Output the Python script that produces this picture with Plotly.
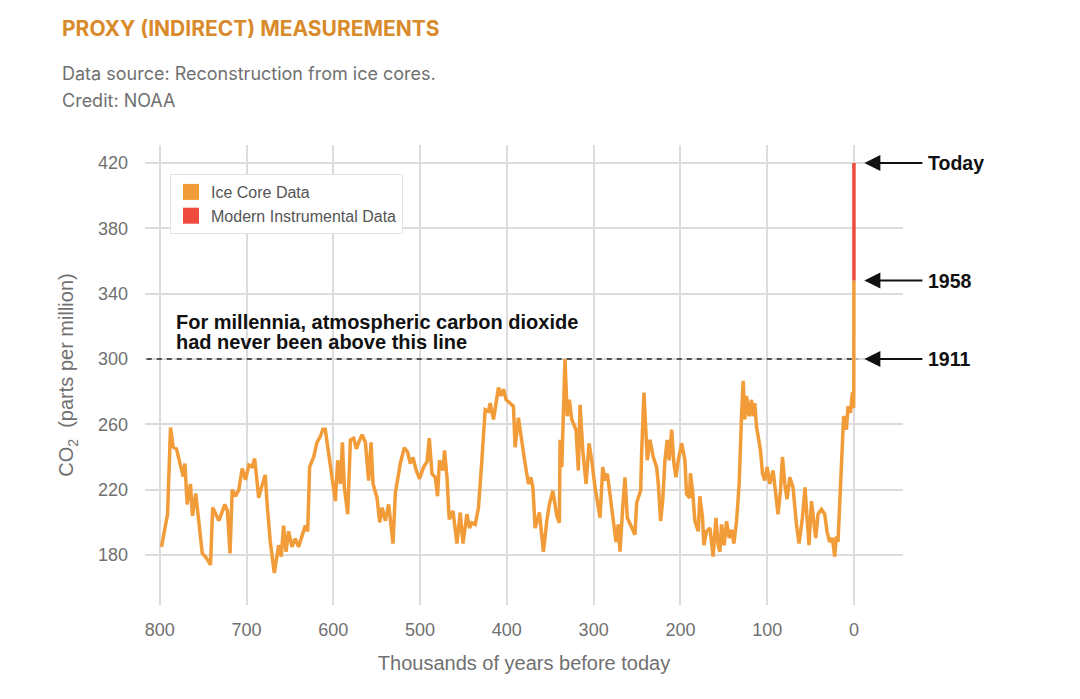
import plotly.graph_objects as go

# ---------------- data ----------------
ice_age = [798, 791, 787.6, 784.5, 780.7, 776.9, 773, 771, 768.4, 764.6, 762.3, 758.5, 755, 751, 746, 741.5,
           739, 735.6, 731.8, 725, 722, 719, 716.5, 712.7, 708.9, 705, 701.2, 697.4, 693.6, 690.6, 686, 683,
           678.4, 676.4, 672.6, 668, 663, 660, 657.3, 654.5, 651.5, 647.6, 643.8, 640, 636, 632.3, 629.5,
           627.3, 622.6, 618.8, 615, 612, 609.3, 603.5, 597.6, 595, 591.8, 589.5, 587.2, 583.4, 580.3, 576.5,
           573.4, 570.7, 566.9, 563, 559.3, 556.5, 554.2, 549.6, 546.6, 543.8, 540, 536.2, 531.2, 528.5,
           522.8, 518.2, 514.4, 511.3, 508.2, 504.4, 500.6, 496, 492, 489.4, 486.3, 482.5, 479.9, 477.6,
           473.7, 471.8, 469, 466.4, 462.1, 457.5, 453.7, 450.6, 446, 443, 440.3, 436.5, 432.7, 428.8, 425,
           421.2, 419.2, 415.4, 412.7, 409.7, 406.9, 403.9, 400.8, 396.2, 392.4, 390.5, 386.7, 384.7, 381.6,
           379, 375.1, 372.4, 370, 367.4, 362.5, 357.9, 354, 351, 347, 342.4, 339.5, 338.7, 336.7, 333,
           330.4, 328, 325.2, 320.3, 317.6, 315.6, 312.5, 308.7, 305.3, 302.2, 298.4, 295.7, 292.6, 289.5,
           286.9, 284.2, 281.1, 277.3, 274.2, 271.6, 269.6, 266.5, 263.9, 261.2, 257.3, 252.4, 250.4, 245.8,
           244.6, 242, 239.7, 238.2, 235.1, 231.3, 227.4, 225.5, 222.8, 220.5, 217.8, 215.2, 212.9, 210.1,
           207.5, 205.2, 202.5, 198.6, 194.8, 192.9, 189.5, 188.5, 186, 183.3, 179.5, 177.6, 174.5, 173,
           169.9, 166, 162.3, 159.1, 156.5, 154.5, 152.6, 149.6, 146.8, 143.8, 141.1, 138.4, 135.3, 132.3,
           129.6, 127.7, 125.8, 123.8, 120.8, 118.1, 116.2, 114.3, 112.3, 109.3, 107.7, 105.4, 102.8, 100.1,
           97, 93.2, 90.1, 87.5, 84.7, 82.4, 79.7, 77.1, 74, 70.2, 66.3, 63.3, 59.4, 56.4, 54.1, 51.8, 49,
           46.4, 44.1, 41.4, 37.5, 33.7, 31.1, 28, 24.9, 22.2, 20.3, 18.4, 16.5, 14.5, 11.9, 8.7, 6.9, 4.1,
           1.8, 1.0, 0.4, 0.2, 0.1, 0.07]
ice_co2 = [185, 205, 258, 246, 245, 236, 228, 236, 211, 223.5, 204, 217.7, 198.7, 181, 178, 174,
           209, 205, 201, 211, 207, 181, 220, 216, 220, 233, 226, 235, 234, 239, 215, 221,
           229, 212, 188, 169, 186, 179, 198, 182, 194.5, 185, 190, 185, 192, 198, 194.5,
           234, 240, 249, 252.5, 257, 257, 235, 213, 238, 223.5, 249, 221, 205, 250.5, 251.5,
           245, 249, 253.6, 249, 225.6, 249, 223.5, 215, 200, 209, 201, 211, 187, 218,
           236, 245.7, 243, 236, 239.7, 231.8, 226.6, 233.8, 237, 251.5, 229.8, 227.6, 216, 238,
           231.8, 244, 227.6, 201.8, 207, 187, 206, 187, 205, 196.5, 199.7, 198.7, 209, 238, 269,
           268, 273, 263, 274, 282.6, 277.4, 281.6, 275, 273, 271, 246, 264, 256.7, 244,
           236, 223.5, 227.6, 221.4, 196.5, 206, 182, 200.7, 211, 219.4, 203.8, 199.7, 250.5, 233.8, 300,
           265, 275, 263, 256.7, 231.8, 272, 244, 223.5, 248.4, 238, 221.4, 211, 202.8, 233.8,
           225.6, 229.8, 217.3, 202.8, 188, 198.7, 182, 209, 227.6, 202.8, 198.7, 192.4, 212, 219.4,
           244, 279.5, 254.6, 238, 250.5, 240, 233.8, 223.5, 200.7, 213, 238, 250.5, 238, 256.7,
           236, 227.6, 238, 248.4, 238, 217.3, 215, 230, 219.4, 200.7, 194.5, 216, 202.8, 186,
           194.5, 196.5, 179, 202.8, 186, 182, 198.7, 186, 200.7, 190.4, 195.5, 187, 200.7, 223.5,
           265, 286.7, 263, 277.4, 265, 275, 265, 273, 258.7, 250.5, 244, 229.8, 225.6, 233.8,
           223.5, 231.8, 219.4, 205, 219.4, 240, 223.5, 214.2, 227.6, 221.4, 198.7, 187, 202.8, 221.4, 202.8, 186, 213,
           198.7, 190.4, 205, 208, 205, 194.5, 188, 190.4, 179, 191.4, 188, 211, 236, 265, 256.7, 271, 267,
           279.5, 272, 270, 285, 300, 348]

modern_age = [0.07, 0.04, 0.02, 0.0]
modern_co2 = [348, 375, 398, 420]

x_ticks = [800, 700, 600, 500, 400, 300, 200, 100, 0]
y_ticks = [180, 220, 260, 300, 340, 380, 420]

marker_labels = ["Today", "1958", "1911"]
marker_values = [420, 348, 300]

ORANGE = "#F19C38"
RED = "#EE4A3E"
GRID = "#dcdcdc"
GRAYTXT = "#707070"
FONT = "Liberation Sans, Arial, sans-serif"

fig = go.Figure()
fig.add_trace(go.Scatter(x=ice_age, y=ice_co2, mode="lines", showlegend=False,
                         line=dict(color=ORANGE, width=3.5), hoverinfo="skip"))
fig.add_trace(go.Scatter(x=modern_age, y=modern_co2, mode="lines", showlegend=False,
                         line=dict(color=RED, width=3.5), hoverinfo="skip"))
# legend entries (square swatches)
fig.add_trace(go.Scatter(x=[None], y=[None], mode="markers", name="Ice Core Data",
                         marker=dict(symbol="square", size=18, color=ORANGE)))
fig.add_trace(go.Scatter(x=[None], y=[None], mode="markers", name="Modern Instrumental Data",
                         marker=dict(symbol="square", size=18, color=RED)))

# dashed threshold line
fig.add_shape(type="line", xref="x", yref="y", x0=815, x1=-4, y0=300, y1=300,
              line=dict(color="#222222", width=1.5, dash="5px,5px"))

PW, PH = 758, 460  # plot area size in px (left edge at 145, top at 145 on the page)
annotations = [
    dict(text="<b>PROXY (INDIRECT) MEASUREMENTS</b>", xref="paper", yref="paper",
         x=(60 - 145) / PW, y=1 + (145 - 28) / PH, xanchor="left", yanchor="middle", showarrow=False,
         font=dict(family="Inter, sans-serif", size=21, color="#D98A2B")),
    dict(text="Data source: Reconstruction from ice cores.", xref="paper", yref="paper",
         x=(60 - 145) / PW, y=1 + (145 - 74) / PH, xanchor="left", yanchor="middle", showarrow=False,
         font=dict(family="Inter, sans-serif", size=18, color=GRAYTXT)),
    dict(text="Credit: NOAA", xref="paper", yref="paper",
         x=(60 - 145) / PW, y=1 + (145 - 100) / PH, xanchor="left", yanchor="middle", showarrow=False,
         font=dict(family="Inter, sans-serif", size=18, color=GRAYTXT)),
    dict(text="<b>For millennia, atmospheric carbon dioxide</b>",
         xref="paper", yref="y", x=(174 - 145) / PW, y=322.6, xanchor="left", yanchor="middle",
         showarrow=False, font=dict(family=FONT, size=20, color="#111111")),
    dict(text="<b>had never been above this line</b>",
         xref="paper", yref="y", x=(174 - 145) / PW, y=310.5, xanchor="left", yanchor="middle",
         showarrow=False, font=dict(family=FONT, size=20, color="#111111")),
]
for label, val in zip(marker_labels, marker_values):
    annotations.append(dict(text="<b>%s</b>" % label, x=-12, y=val, xref="x", yref="y",
                            ax=58, ay=0, xanchor="left", yanchor="middle", showarrow=True,
                            borderpad=5, arrowhead=2, arrowsize=1.6, arrowwidth=2,
                            arrowcolor="#111111",
                            font=dict(family=FONT, size=19.5, color="#111111")))

fig.update_layout(
    width=1072, height=691,
    margin=dict(l=137, r=177, t=137, b=94),
    paper_bgcolor="white", plot_bgcolor="white",
    font=dict(family=FONT, color=GRAYTXT),
    annotations=annotations,
    legend=dict(x=(170 - 145) / PW, y=(605 - 174) / PH, xanchor="left", yanchor="top",
                bgcolor="white", bordercolor="#e4e4e4", borderwidth=1,
                font=dict(family=FONT, size=16, color="#555555"), tracegroupgap=0,
                itemwidth=30, entrywidth=215),
    xaxis=dict(range=[817, -56.5], tickvals=x_ticks, ticktext=[str(v) for v in x_ticks],
               showgrid=True, gridcolor=GRID, gridwidth=2, zeroline=False, showline=False,
               ticks="", ticklabelstandoff=12, tickfont=dict(size=18, color=GRAYTXT),
               title=dict(text="Thousands of years before today", standoff=16,
                          font=dict(size=20, color=GRAYTXT))),
    yaxis=dict(range=[149.4, 431], tickvals=y_ticks, ticktext=[str(v) for v in y_ticks],
               showgrid=True, gridcolor=GRID, gridwidth=2, zeroline=False, showline=False,
               ticks="", ticklabelstandoff=16, tickfont=dict(size=18, color=GRAYTXT),
               title=dict(text="CO<sub>2</sub>  (parts per million)", standoff=18,
                          font=dict(size=20, color=GRAYTXT))),
)

fig.write_html("out.html")
